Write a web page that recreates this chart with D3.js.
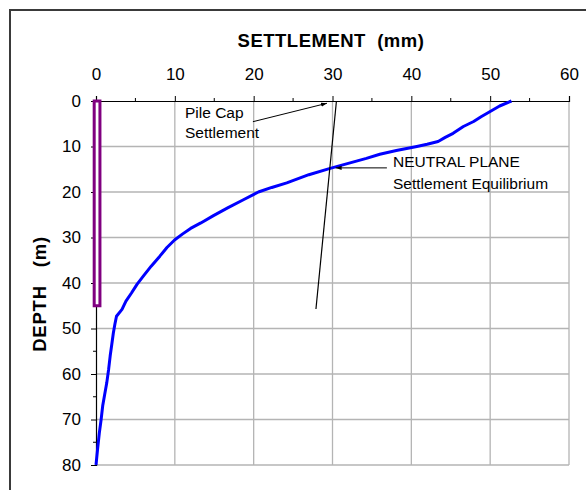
<!DOCTYPE html>
<html>
<head>
<meta charset="utf-8">
<script src="https://cdn.jsdelivr.net/npm/d3@7"></script>
<style>
  html, body { margin: 0; padding: 0; background: #fff; }
  svg { display: block; font-family: "Liberation Sans", Arial, sans-serif; }
</style>
</head>
<body>
<svg id="chart" width="586" height="490"></svg>
<script>
// Settlement profile along depth (mm, m)
const settlement = [52.7, 51.2, 50.0, 48.9, 47.9, 46.6, 45.3, 44.3, 43.4, 42.0, 40.7, 38.1, 36.0, 34.3, 32.0, 29.7, 27.0, 24.2, 22.3, 20.6, 18.7, 16.7, 14.9, 13.3, 12.0, 11.0, 10.0, 9.0, 8.1, 7.0, 6.0, 5.2, 4.5, 3.8, 3.3, 2.6, 2.4, 2.2, 2.0, 1.8, 1.6, 1.36, 1.1, 0.85, 0.65, 0.42, 0.2, 0.0];
const depth      = [0.0, 1.1, 2.3, 3.4, 4.5, 5.6, 7.1, 8.0, 8.9, 9.5, 10.0, 10.9, 11.7, 12.6, 13.7, 14.8, 16.2, 18.0, 19.0, 20.0, 21.7, 23.5, 25.2, 26.8, 28.0, 29.2, 30.5, 32.2, 34.1, 36.3, 38.5, 40.3, 42.2, 44.0, 45.8, 47.3, 49.0, 51.0, 53.5, 56.0, 59.0, 62.0, 64.5, 67.0, 70.0, 73.0, 76.5, 80.0];

// Pile outline (mm, m)
const pileX = [-0.23, 0.5];
const pileY = [0, 45];

// Pile settlement line (mm, m)
const pileLineX = [30.5, 27.9];
const pileLineY = [0, 45.7];

// Axis ticks
const xTicks = [0, 10, 20, 30, 40, 50, 60];
const yTicks = [0, 10, 20, 30, 40, 50, 60, 70, 80];
const xMinor = [5, 15, 25, 35, 45, 55];
const yMinor = [5, 15, 25, 35, 45, 55, 65, 75];

// Annotations
const capNote = { lines: ["Pile Cap", "Settlement"], from: [19.9, 4.55], to: [29.3, 0.5] };
const neutralNote = { lines: ["NEUTRAL PLANE", "Settlement Equilibrium"], from: [36.9, 14.7], to: [30.4, 14.7] };

const svg = d3.select("#chart");
const plotL = 96, plotR = 569, plotT = 101, plotB = 465;

const x = d3.scaleLinear().domain([0, 60]).range([plotL, plotR]);
const y = d3.scaleLinear().domain([0, 80]).range([plotT, plotB]);

// Outer frame (top and left edges)
svg.append("path")
  .attr("d", "M10,600 L10,10 L600,10")
  .attr("fill", "none").attr("stroke", "#3a3a3a").attr("stroke-width", 2);

// Arrow marker
const defs = svg.append("defs");
defs.append("marker")
  .attr("id", "arrow").attr("viewBox", "0 0 10 10")
  .attr("refX", 10).attr("refY", 5)
  .attr("markerWidth", 6).attr("markerHeight", 6)
  .attr("orient", "auto")
  .append("path").attr("d", "M0,1.5 L10,5 L0,8.5 Z").attr("fill", "#000");

// Gridlines
const grid = svg.append("g").attr("stroke", "#b4b4b4").attr("stroke-width", 1.3);
grid.selectAll(".gv").data(xTicks.slice(1)).join("line")
  .attr("x1", d => x(d)).attr("x2", d => x(d))
  .attr("y1", plotT).attr("y2", plotB);
grid.selectAll(".gh").data(yTicks.slice(1)).join("line")
  .attr("x1", plotL).attr("x2", plotR)
  .attr("y1", d => y(d)).attr("y2", d => y(d));

// Top axis
const xAxis = svg.append("g").attr("transform", `translate(0,${plotT})`)
  .call(d3.axisTop(x).tickValues(xTicks).tickSize(5).tickPadding(16).tickFormat(d3.format("d")));
xAxis.append("g").selectAll("line").data(xMinor).join("line")
  .attr("x1", d => x(d)).attr("x2", d => x(d)).attr("y1", 0).attr("y2", -3)
  .attr("stroke", "#000");

// Left axis
const yAxis = svg.append("g").attr("transform", `translate(${plotL},0)`)
  .call(d3.axisLeft(y).tickValues(yTicks).tickSize(5).tickPadding(10).tickFormat(d3.format("d")));
yAxis.append("g").selectAll("line").data(yMinor).join("line")
  .attr("x1", 0).attr("x2", -3).attr("y1", d => y(d)).attr("y2", d => y(d))
  .attr("stroke", "#000");

[xAxis, yAxis].forEach(a => {
  a.select(".domain").attr("stroke", "#000").attr("stroke-width", 1.2);
  a.selectAll(".tick line").attr("stroke", "#000");
  a.selectAll("text").attr("font-size", 17).attr("fill", "#000")
    .attr("font-family", "Liberation Sans, Arial, sans-serif");
});
xAxis.selectAll(".tick text").attr("dy", "0em");

// Titles
svg.append("text").attr("x", 331).attr("y", 47).attr("text-anchor", "middle")
  .attr("font-size", 18.5).attr("font-weight", "bold").attr("letter-spacing", 0.5)
  .attr("xml:space", "preserve")
  .text("SETTLEMENT  (mm)");
svg.append("text").attr("transform", "translate(46,294) rotate(-90)")
  .attr("text-anchor", "middle").attr("font-size", 18.5).attr("font-weight", "bold")
  .attr("letter-spacing", 0.8).attr("xml:space", "preserve")
  .text("DEPTH   (m)");

// Pile outline
svg.append("rect")
  .attr("x", x(pileX[0])).attr("y", y(pileY[0]))
  .attr("width", x(pileX[1]) - x(pileX[0])).attr("height", y(pileY[1]) - y(pileY[0]))
  .attr("fill", "#fff").attr("stroke", "#800080").attr("stroke-width", 3);

// Settlement curve
const line = d3.line().x(d => x(d[0])).y(d => y(d[1]));
svg.append("path").datum(d3.zip(settlement, depth))
  .attr("d", line).attr("fill", "none")
  .attr("stroke", "#0000ff").attr("stroke-width", 3).attr("stroke-linejoin", "round");

// Pile settlement line
svg.append("path").datum(d3.zip(pileLineX, pileLineY))
  .attr("d", line).attr("fill", "none")
  .attr("stroke", "#000").attr("stroke-width", 1.2);

// Annotations
function note(n, tx, ty, lh) {
  svg.append("line")
    .attr("x1", x(n.from[0])).attr("y1", y(n.from[1]))
    .attr("x2", x(n.to[0])).attr("y2", y(n.to[1]))
    .attr("stroke", "#000").attr("stroke-width", 1)
    .attr("marker-end", "url(#arrow)");
  const t = svg.append("text").attr("font-size", 15.5).attr("fill", "#000");
  n.lines.forEach((s, i) => t.append("tspan").attr("x", tx).attr("y", ty + i * lh).text(s));
}
note(capNote, 185, 118, 20);
note(neutralNote, 393, 167, 22);
</script>
</body>
</html>
